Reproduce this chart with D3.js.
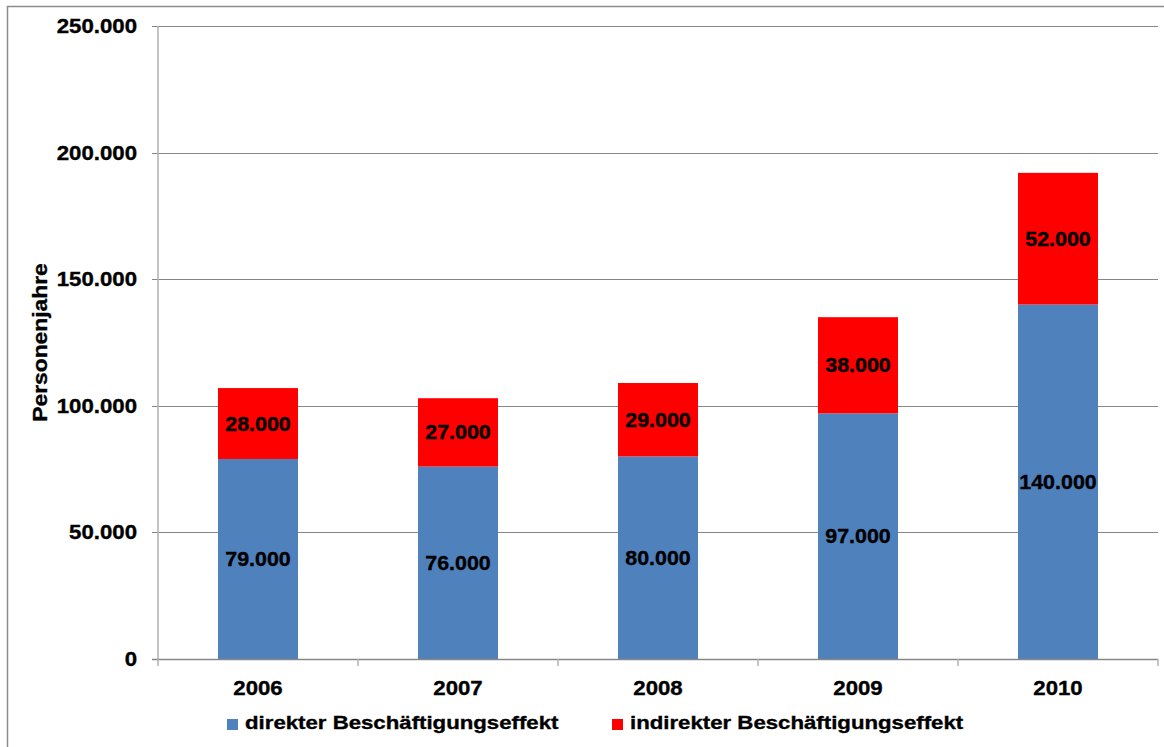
<!DOCTYPE html>
<html><head><meta charset="utf-8">
<script src="https://cdn.jsdelivr.net/npm/d3@7"></script>
<style>body{margin:0;background:#fff}svg{display:block}text{font-family:"Liberation Sans",Arial,sans-serif;font-weight:bold;fill:#000;stroke:#000;stroke-width:0.35px}</style>
</head><body>
<svg id="c" width="1164" height="747"></svg>
<script>
const years = ["2006","2007","2008","2009","2010"];
const direkt = [79000,76000,80000,97000,140000];
const indirekt = [28000,27000,29000,38000,52000];
const yTicks = [0,50000,100000,150000,200000,250000];
const seriesNames = ["direkter Beschäftigungseffekt","indirekter Beschäftigungseffekt"];
const colors = ["#4F81BD","#FF0000"];

const svg = d3.select("#c");
const pL=158,pR=1158,pT=26,pB=659;
const x = d3.scaleBand().domain(years).range([pL,pR]).paddingInner(0.6).paddingOuter(0.3);
const y = d3.scaleLinear().domain([0,250000]).range([pB,pT]);
const fmt = v => v===0 ? "0" : d3.format(",")(v).replace(/,/g,".");
const SX = 1.14;
function txt(g, xx, yy, s, size, anchor, sx){
  return g.append("text").attr("transform",`translate(${xx},${yy}) scale(${sx||SX},1)`)
   .attr("text-anchor",anchor).style("font-size",size+"px").text(s);
}

// frame
svg.append("path").attr("d","M7.5,760 V6.5 H1170").attr("fill","none").attr("stroke","#8c8c8c").attr("stroke-width",1.5);

// gridlines
const g = svg.append("g");
yTicks.filter(t=>t>0).forEach(t=>{
  g.append("line").attr("x1",pL-6).attr("x2",pR).attr("y1",Math.round(y(t))+0.5).attr("y2",Math.round(y(t))+0.5)
   .attr("stroke","#868686").attr("stroke-width",1);
});
yTicks.forEach(t=>{ txt(g,137,y(t)+7,fmt(t),19.5,"end"); });

// bars
const stack = d3.stack().keys([0,1]).value((d,k)=>d[k])(years.map((yr,i)=>[direkt[i],indirekt[i]]));
stack.forEach((layer,k)=>{
  layer.forEach((d,i)=>{
    g.append("rect").attr("x",x(years[i])).attr("width",x.bandwidth())
     .attr("y",y(d[1])).attr("height",y(d[0])-y(d[1])).attr("fill",colors[k]);
  });
});
stack.forEach((layer,k)=>{
  layer.forEach((d,i)=>{
    const v = d[1]-d[0];
    txt(g,x(years[i])+x.bandwidth()/2,(y(d[0])+y(d[1]))/2+7,fmt(v),19.5,"middle",1.1);
  });
});

// axes lines
g.append("line").attr("x1",pL).attr("x2",pL).attr("y1",pT).attr("y2",pB).attr("stroke","#b0b0b0").attr("stroke-width",1.5);
g.append("line").attr("x1",pL-6).attr("x2",pR).attr("y1",pB+0.5).attr("y2",pB+0.5).attr("stroke","#868686").attr("stroke-width",1.5);
const xt = [pL].concat(years.map(yr=>x(yr)+x.bandwidth()/2+x.step()/2));
xt.forEach(v=>g.append("line").attr("x1",v).attr("x2",v).attr("y1",pB).attr("y2",pB+7).attr("stroke","#b0b0b0").attr("stroke-width",1.5));
years.forEach(yr=>txt(g,x(yr)+x.bandwidth()/2,695,yr,19.5,"middle"));

// y title
g.append("text").attr("transform",`translate(47,${(pT+pB)/2}) rotate(-90) scale(1.17,1)`)
 .attr("text-anchor","middle").style("font-size","19.5px").text("Personenjahre");

// legend
const lx=[227,612];
seriesNames.forEach((n,k)=>{
  g.append("rect").attr("x",lx[k]).attr("y",719).attr("width",11).attr("height",11).attr("fill",colors[k]);
  txt(g,lx[k]+18,729,n,19,"start",1.17);
});
</script></body></html>
